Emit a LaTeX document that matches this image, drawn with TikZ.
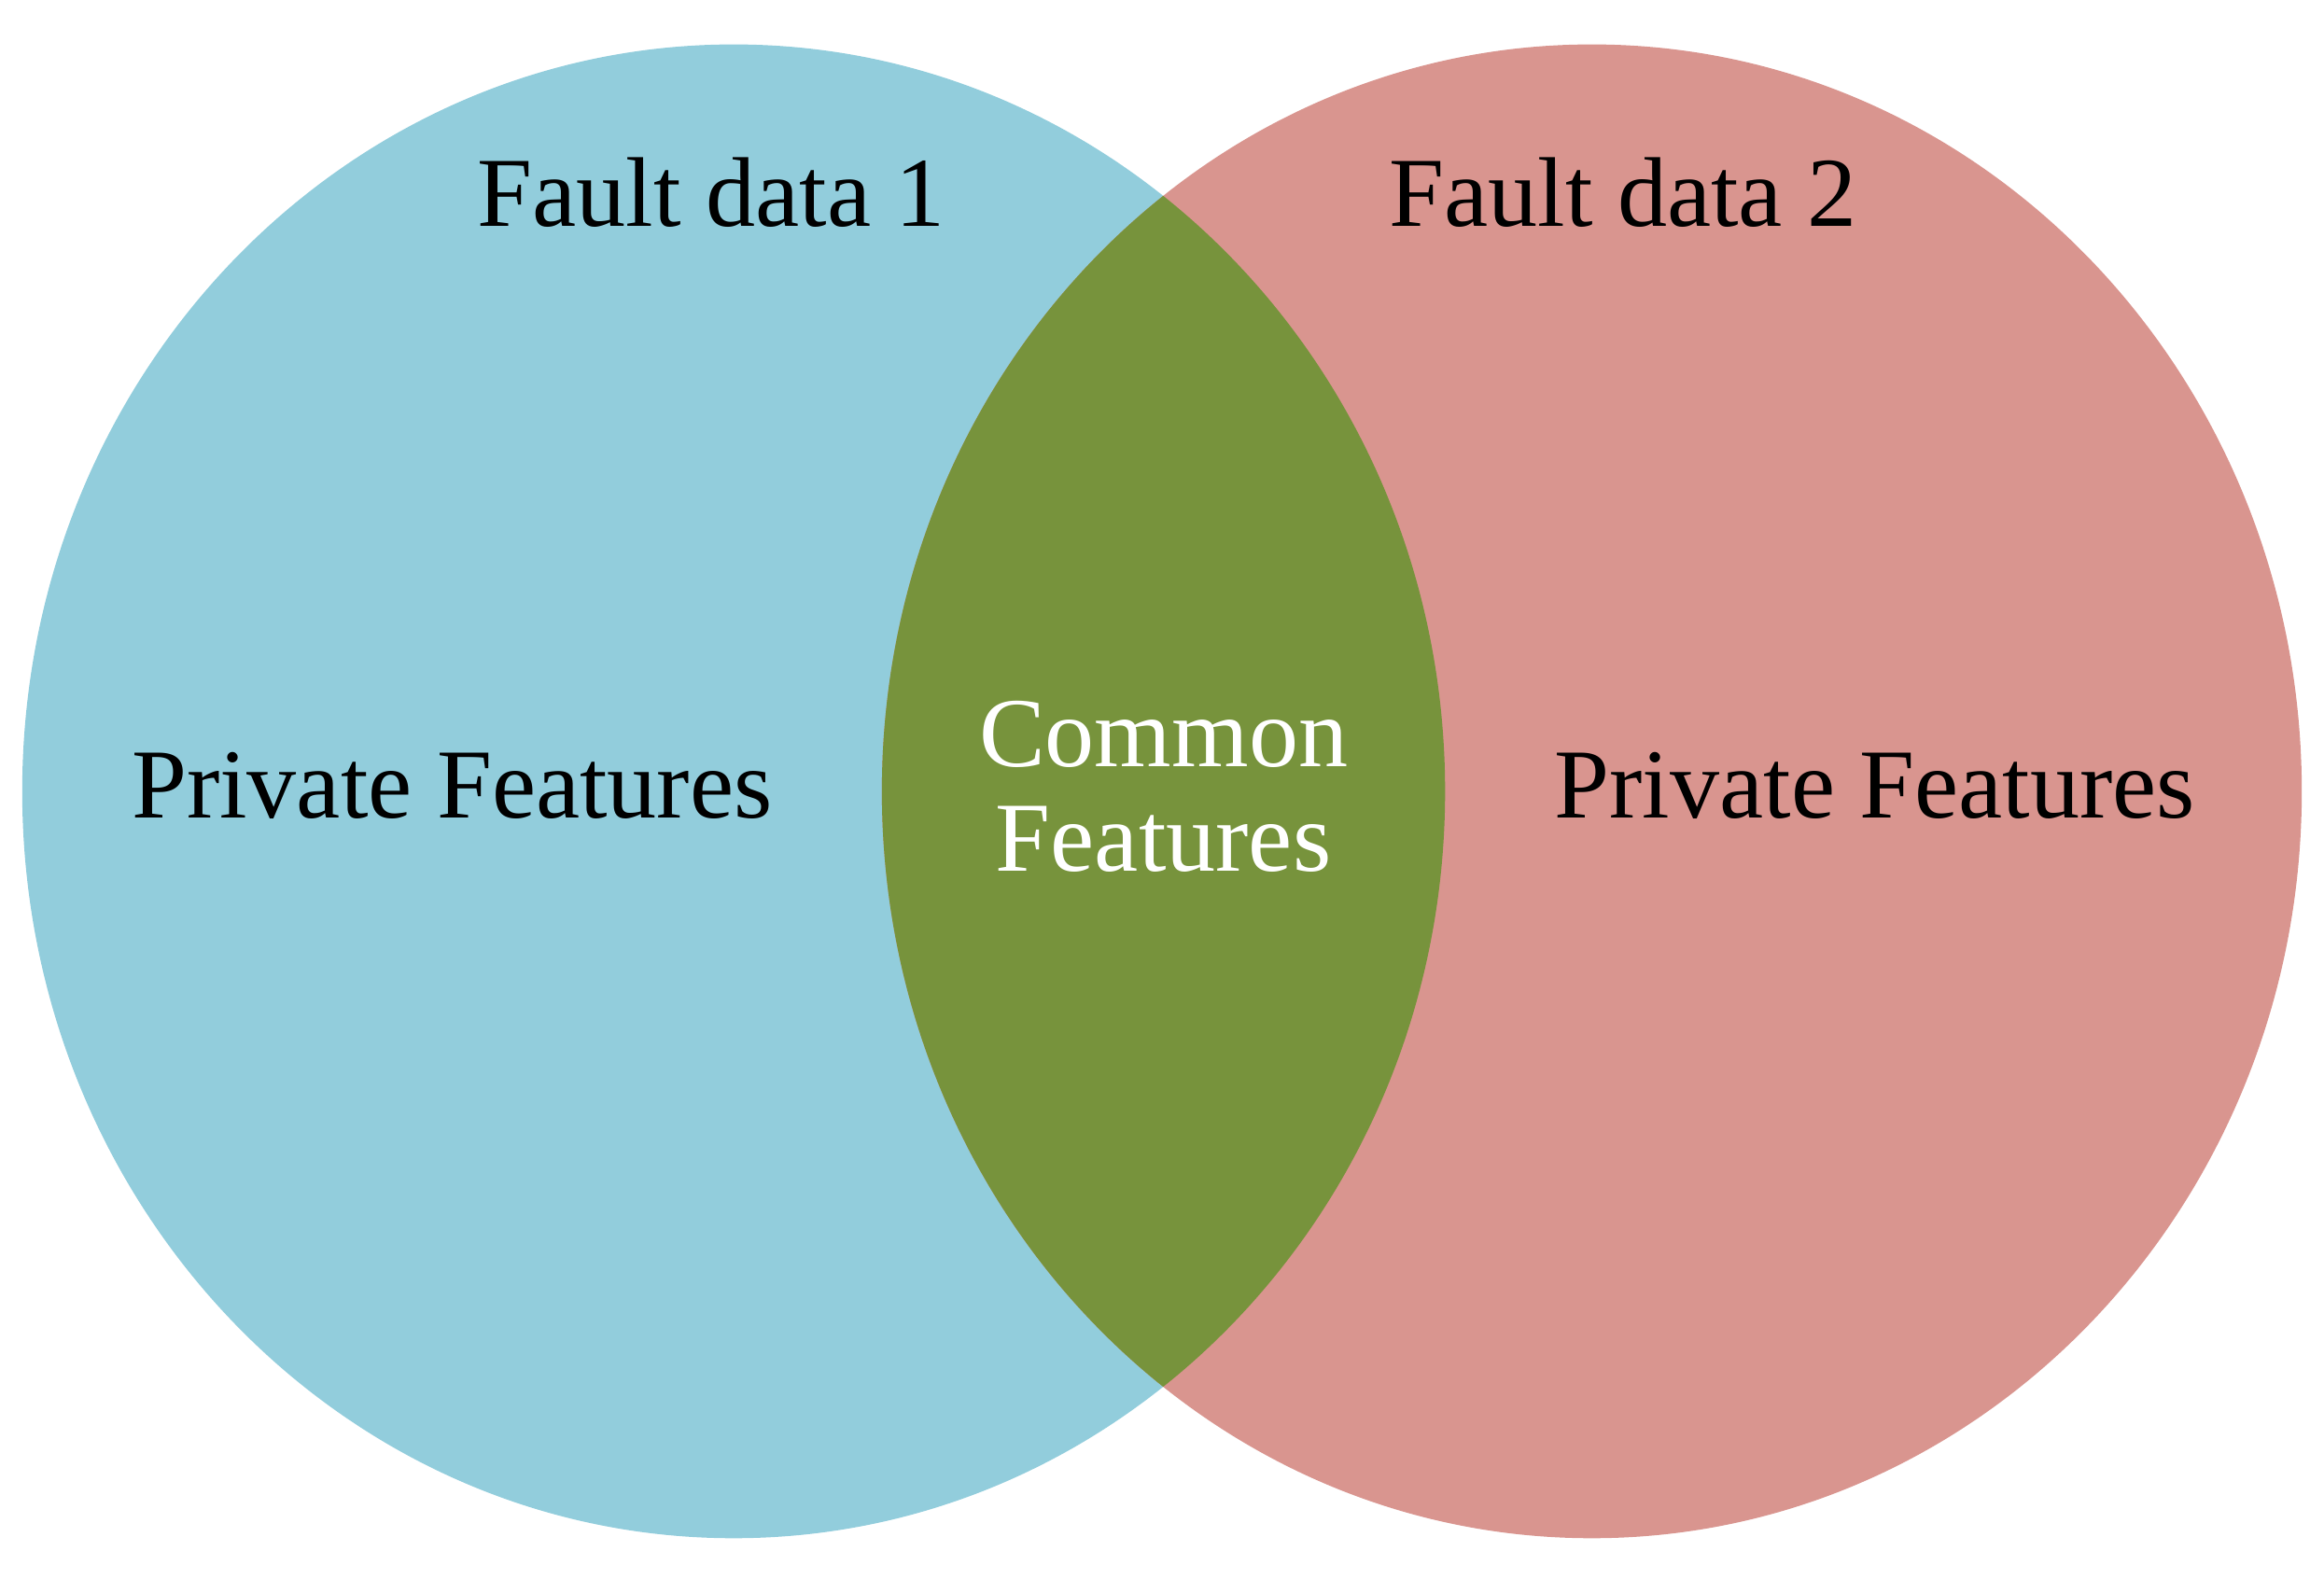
\documentclass[tikz,border=0pt]{standalone}
\usepackage{fontspec}
\setmainfont{Liberation Serif}
\definecolor{cblue}{HTML}{92CDDC}
\definecolor{cpink}{HTML}{D9958F}
\definecolor{cgreen}{HTML}{77933C}
\begin{document}
\begin{tikzpicture}[x=0.01cm,y=0.01cm,
  lbl/.style={font=\fontsize{19}{23}\selectfont,align=center}]
\useasboundingbox (0,0) rectangle (1568,1065);
\fill[cblue] (495,531) ellipse [x radius=480,y radius=504];
\fill[cpink] (1074,531) ellipse [x radius=479,y radius=504];
\begin{scope}
\clip (495,531) ellipse [x radius=480,y radius=504];
\fill[cgreen] (1074,531) ellipse [x radius=479,y radius=504];
\end{scope}
\node[lbl] (f1) at (480,935) {Fault data 1};
\node[lbl] (f2) at (1095,935) {Fault data 2};
\node[lbl] (p1) at (305,535) {Private Features};
\node[lbl] (p2) at (1265,535) {Private Features};
\node[lbl,text=white,font=\fontsize{19}{20}\selectfont] (c) at (785,534) {Common\\Features};
\end{tikzpicture}
\end{document}
